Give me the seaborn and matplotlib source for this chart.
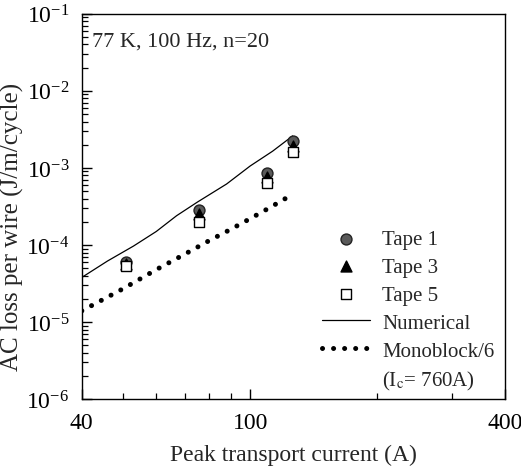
import numpy as np
import pandas as pd
import matplotlib
matplotlib.use("Agg")
import matplotlib.pyplot as plt
import matplotlib.ticker as mticker
from matplotlib.lines import Line2D
import seaborn as sns

# datos
corriente = [51, 75.6, 109.5, 126]
tape1 = [6.0e-5, 2.85e-4, 8.6e-4, 2.25e-3]
tape3 = [5.7e-5, 2.5e-4, 7.6e-4, 1.95e-3]
tape5 = [5.3e-5, 2.0e-4, 6.4e-4, 1.6e-3]

num_x = [40, 46, 53, 60, 67, 75, 88, 100, 113, 126]
num_y = [3.8e-5, 6.2e-5, 9.7e-5, 1.5e-4, 2.4e-4, 3.6e-4, 6.2e-4, 1.06e-3, 1.65e-3, 2.6e-3]

mono_x = [40, 50, 60, 70, 80, 90, 100, 110, 122]
mono_y = [1.4e-5, 2.7e-5, 4.8e-5, 7.6e-5, 1.14e-4, 1.6e-4, 2.2e-4, 2.95e-4, 4.1e-4]

sns.set_style("ticks")
plt.rcParams["font.family"] = ["Liberation Serif", "DejaVu Serif"]
plt.rcParams["mathtext.fontset"] = "stix"
plt.rcParams["xtick.direction"] = "in"
plt.rcParams["ytick.direction"] = "in"

fig = plt.figure(figsize=(5.21, 4.77), dpi=100)
ax = fig.add_axes([0.157, 0.161, 0.812, 0.808])

df_tapes = pd.DataFrame({"I": corriente * 3,
                         "Q": tape1 + tape3 + tape5,
                         "cinta": ["Tape 1"] * 4 + ["Tape 3"] * 4 + ["Tape 5"] * 4})

sns.lineplot(x=num_x, y=num_y, ax=ax, color="black", lw=0.9, label="Numerical")
sns.lineplot(x=mono_x, y=mono_y, ax=ax, color="black", lw=3.6,
             linestyle=(0, (0.01, 2.2)), dash_capstyle="round",
             label="Monoblock/6")

estilos = {"Tape 1": dict(marker="o", facecolor="#5a5a5a", edgecolor="#222222"),
           "Tape 3": dict(marker="^", facecolor="black", edgecolor="black"),
           "Tape 5": dict(marker="s", facecolor="white", edgecolor="black")}
for cinta, st in estilos.items():
    d = df_tapes[df_tapes["cinta"] == cinta]
    sns.scatterplot(data=d, x="I", y="Q", ax=ax, marker=st["marker"], s=62,
                    color=st["facecolor"], edgecolor=st["edgecolor"], linewidth=1,
                    label=cinta, zorder=3)

ax.set_xscale("log")
ax.set_yscale("log")
ax.set_xlim(40, 400)
ax.set_ylim(1e-6, 1e-1)

ax.xaxis.set_major_locator(mticker.FixedLocator([40, 100, 400]))
ax.xaxis.set_major_formatter(mticker.FixedFormatter(["40", "100", "400"]))
ax.xaxis.set_minor_locator(mticker.FixedLocator([50, 60, 70, 80, 90, 200, 300]))
ax.xaxis.set_minor_formatter(mticker.NullFormatter())
ax.yaxis.set_major_locator(mticker.LogLocator(base=10))
ax.yaxis.set_minor_locator(mticker.LogLocator(base=10, subs=np.arange(2, 10)))
ax.yaxis.set_minor_formatter(mticker.NullFormatter())
ax.tick_params(which="major", length=7, width=1.0, labelsize=17, pad=9,
               color="black", labelcolor="black")
ax.tick_params(which="minor", length=4, width=0.9, color="black")
for s in ax.spines.values():
    s.set_linewidth(1.0)
    s.set_color("black")

ax.set_xlabel("Peak transport current (A)", fontsize=17, labelpad=8)
ax.set_ylabel("AC loss per wire (J/m/cycle)", fontsize=18)
ax.yaxis.set_label_coords(-0.137, 0.45)
ax.text(0.024, 0.93, "77 K, 100 Hz, n=20", transform=ax.transAxes,
        fontsize=16, va="center")

h, l = ax.get_legend_handles_labels()
orden = [2, 3, 4, 0, 1]
handles = [h[i] for i in orden] + [Line2D([], [], linestyle="none")]
labels = [l[i] for i in orden] + ["(I$_\\mathrm{c}$= 760A)"]
ax.legend(handles, labels, loc="lower right",
          bbox_to_anchor=(1.02, -0.03), frameon=False, fontsize=15,
          handlelength=2.3, labelspacing=0.4, handletextpad=0.6)

fig.savefig("out.png", dpi=100)
